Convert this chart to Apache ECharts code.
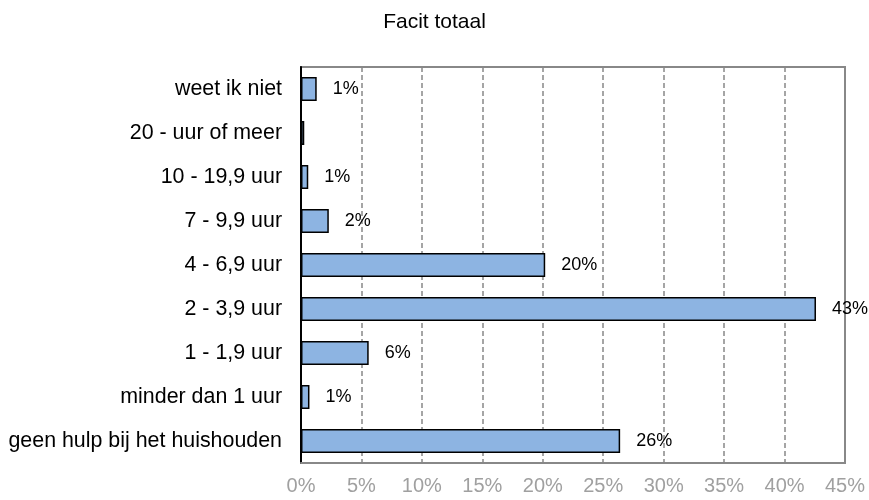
<!DOCTYPE html>
<html>
<head>
<meta charset="utf-8">
<script src="https://cdn.jsdelivr.net/npm/echarts@6/dist/echarts.min.js"></script>
<style>
  html, body { margin: 0; padding: 0; background: #fff; }
  #chart { width: 869px; height: 500px; }
</style>
</head>
<body>
<div id="chart"></div>
<script>
// categories bottom -> top (category axis draws first item at the bottom)
const categories = [
  'geen hulp bij het huishouden',
  'minder dan 1 uur',
  '1 - 1,9 uur',
  '2 - 3,9 uur',
  '4 - 6,9 uur',
  '7 - 9,9 uur',
  '10 - 19,9 uur',
  '20 - uur of meer',
  'weet ik niet'
]
const percentages = [26.4, 0.7, 5.6, 42.6, 20.2, 2.3, 0.6, 0.27, 1.3]
const xTicks = [0, 5, 10, 15, 20, 25, 30, 35, 40, 45]

const font = "'Liberation Sans', Arial, Helvetica, sans-serif"

const chart = echarts.init(document.getElementById('chart'), null, { renderer: 'canvas' })

chart.setOption({
  animation: false,
  title: {
    text: 'Facit totaal',
    left: 'center',
    top: 7,
    textStyle: { fontFamily: font, fontSize: 21, fontWeight: 'normal', color: '#000' }
  },
  grid: {
    left: 301,
    right: 24,
    top: 67,
    bottom: 37,
    show: true,
    borderColor: '#888',
    borderWidth: 2
  },
  xAxis: {
    type: 'value',
    min: xTicks[0],
    max: xTicks[xTicks.length - 1],
    interval: 5,
    axisLine: { show: true, lineStyle: { color: '#888', width: 2 } },
    axisTick: { show: false },
    axisLabel: {
      formatter: '{value}%',
      margin: 13,
      color: '#a0a0a0',
      fontFamily: font,
      fontSize: 20
    },
    splitLine: {
      show: true,
      lineStyle: { color: '#888', width: 1.5, type: [5, 3] }
    }
  },
  yAxis: {
    type: 'category',
    data: categories,
    axisLine: { show: true, lineStyle: { color: '#000', width: 2 } },
    axisTick: { show: false },
    axisLabel: {
      margin: 19,
      color: '#000',
      fontFamily: font,
      fontSize: 21.4
    },
    splitLine: { show: false }
  },
  series: [
    {
      type: 'bar',
      data: percentages,
      barWidth: 24,
      itemStyle: {
        color: '#8DB4E2',
        borderColor: '#000',
        borderWidth: 1.5
      },
      label: {
        show: true,
        position: 'right',
        distance: 16,
        color: '#000',
        fontFamily: font,
        fontSize: 18,
        formatter: p => {
          const r = Math.round(p.value)
          return r === 0 ? '' : r + '%'
        }
      }
    }
  ]
})
</script>
</body>
</html>
